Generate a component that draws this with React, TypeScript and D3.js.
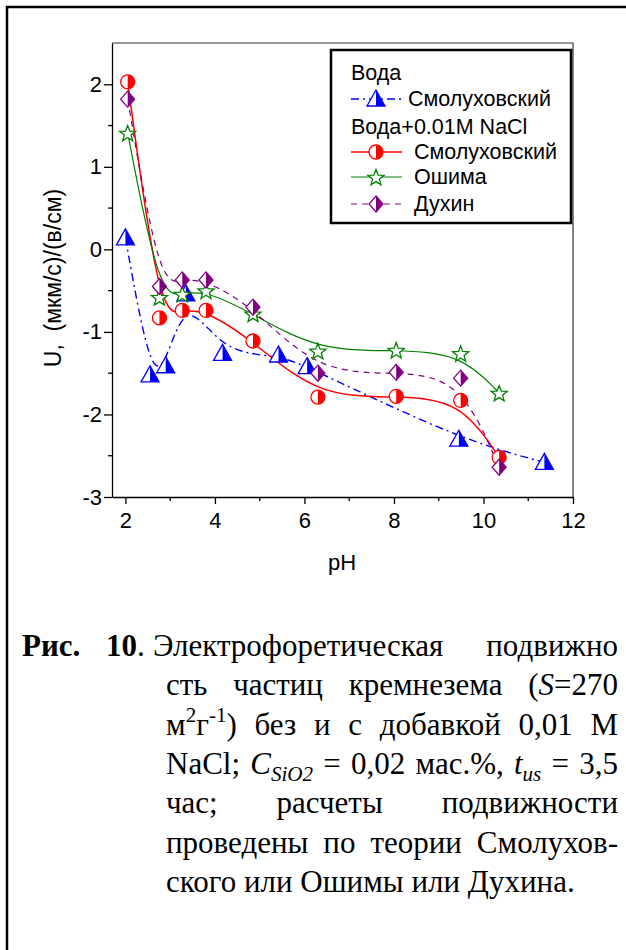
import React, { useEffect, useRef } from 'react';
import * as d3 from 'd3';

// Вода, Смолуховский
const phWater = [2.0, 2.55, 2.9, 3.35, 4.17, 5.42, 6.06, 9.45, 11.36];
const uWaterSmol = [0.14, -1.52, -1.41, -0.54, -1.26, -1.28, -1.42, -2.3, -2.58];

// Вода + 0.01M NaCl
const phNaCl = [2.05, 2.76, 3.27, 3.8, 4.85, 6.3, 8.05, 9.49, 10.35];
const uNaClSmol = [2.03, -0.83, -0.74, -0.74, -1.11, -1.79, -1.78, -1.83, -2.52];
const uNaClOshima = [1.41, -0.58, -0.54, -0.5, -0.78, -1.23, -1.22, -1.26, -1.74];
const uNaClDukhin = [1.82, -0.45, -0.37, -0.37, -0.7, -1.5, -1.49, -1.56, -2.64];

const xTicks = [2, 4, 6, 8, 10, 12];
const xMinor = [3, 5, 7, 9, 11];
const yTicks = [-3, -2, -1, 0, 1, 2];
const yMinor = [-2.5, -1.5, -0.5, 0.5, 1.5];

const legendItems = ['Вода', 'Смолуховский', 'Вода+0.01M NaCl', 'Смолуховский', 'Ошима', 'Духин'];

type Seg = { t: string; i?: boolean; b?: boolean; sub?: boolean; sup?: boolean };
const wd = (...s: (string | Seg)[]): Seg[] => s.map(x => (typeof x === 'string' ? { t: x } : x));

// caption lines 2..7 (line 1 is laid out by hand)
const captionLines: Seg[][][] = [
	[wd('сть'), wd('частиц'), wd('кремнезема'), wd('(', { t: 'S', i: true }, '=270')],
	[wd('м', { t: '2', sup: true }, 'г', { t: '-1', sup: true }, ')'), wd('без'), wd('и'), wd('с'), wd('добавкой'), wd('0,01'), wd('М')],
	[wd('NaCl;'), wd({ t: 'C', i: true }, { t: 'SiO2', i: true, sub: true }), wd('='), wd('0,02'), wd('мас.%,'), wd({ t: 't', i: true }, { t: 'us', i: true, sub: true }), wd('='), wd('3,5')],
	[wd('час;'), wd('расчеты'), wd('подвижности')],
	[wd('проведены'), wd('по'), wd('теории'), wd('Смолухов-')],
	[wd('ского'), wd('или'), wd('Ошимы'), wd('или'), wd('Духина.')]
];

const SANS = '"Liberation Sans", Arial, sans-serif';
const SERIF = '"Liberation Serif", "Times New Roman", serif';

const BLUE = '#0000ff';
const RED = '#ff0000';
const GREEN = '#008000';
const PURPLE = '#800080';

export default function App() {
	const ref = useRef<SVGSVGElement>(null);

	useEffect(() => {
		const svg = d3.select(ref.current);
		svg.selectAll('*').remove();

		// outer frame (runs off the right and bottom edges)
		svg.append('rect')
			.attr('x', 7).attr('y', 7).attr('width', 700).attr('height', 1000)
			.attr('fill', 'none').attr('stroke', '#000').attr('stroke-width', 2.5);

		const x = d3.scaleLinear().domain([1.7, 12]).range([112, 573]);
		const y = d3.scaleLinear().domain([-3, 2.5]).range([497, 43]);

		// box
		svg.append('path')
			.attr('d', `M${x(1.7)},${y(2.5)}H${x(12)}V${y(-3)}`)
			.attr('fill', 'none').attr('stroke', '#333').attr('stroke-width', 1.2);

		const xAxis = svg.append('g').attr('transform', `translate(0,${y(-3)})`)
			.call(d3.axisBottom(x).tickValues(xTicks).tickSize(7).tickSizeOuter(0).tickPadding(8).tickFormat(d => String(d)));
		xAxis.append('g').selectAll('line').data(xMinor).join('line')
			.attr('x1', d => x(d)).attr('x2', d => x(d)).attr('y1', 0).attr('y2', 4).attr('stroke', '#000');

		const yAxis = svg.append('g').attr('transform', `translate(${x(1.7)},0)`)
			.call(d3.axisLeft(y).tickValues(yTicks).tickSize(8).tickSizeOuter(0).tickPadding(2).tickFormat(d => String(d)));
		yAxis.append('g').selectAll('line').data(yMinor).join('line')
			.attr('y1', d => y(d)).attr('y2', d => y(d)).attr('x1', 0).attr('x2', -4).attr('stroke', '#000');

		[xAxis, yAxis].forEach(a => {
			a.selectAll('text').attr('font-family', SANS).attr('font-size', 22).attr('fill', '#000');
			a.selectAll('path, line').attr('stroke', '#000').attr('stroke-width', 1.3);
		});

		svg.append('text')
			.attr('transform', 'translate(53,278) rotate(-90)')
			.attr('text-anchor', 'middle').attr('dominant-baseline', 'central')
			.attr('font-family', SANS).attr('font-size', 23).style('white-space', 'pre')
			.text('U,  (мкм/с)/(в/см)');

		svg.append('text')
			.attr('x', 342).attr('y', 570).attr('text-anchor', 'middle')
			.attr('font-family', SANS).attr('font-size', 22).text('pH');

		// markers
		const tri = (g: any, cx: number, cy: number) => {
			g.append('path').attr('d', `M${cx},${cy - 9}L${cx + 9},${cy + 7}L${cx - 9},${cy + 7}Z`)
				.attr('fill', '#fff').attr('stroke', BLUE).attr('stroke-width', 1.3);
			g.append('path').attr('d', `M${cx},${cy - 9}L${cx + 9},${cy + 7}L${cx},${cy + 7}Z`).attr('fill', BLUE);
		};
		const circ = (g: any, cx: number, cy: number) => {
			g.append('circle').attr('cx', cx).attr('cy', cy).attr('r', 7)
				.attr('fill', '#fff').attr('stroke', RED).attr('stroke-width', 1.3);
			g.append('path').attr('d', `M${cx},${cy - 7}A7,7 0 0 1 ${cx},${cy + 7}Z`).attr('fill', RED);
		};
		const star = (g: any, cx: number, cy: number) => {
			const pts = d3.range(10).map(k => {
				const r = k % 2 ? 3.6 : 8.5;
				const a = (k * Math.PI) / 5 - Math.PI / 2;
				return [cx + r * Math.cos(a), cy + 1 + r * Math.sin(a)];
			});
			g.append('path').attr('d', 'M' + pts.join('L') + 'Z')
				.attr('fill', '#fff').attr('stroke', GREEN).attr('stroke-width', 1.3);
		};
		const diam = (g: any, cx: number, cy: number) => {
			g.append('path').attr('d', `M${cx},${cy - 8}L${cx + 7},${cy}L${cx},${cy + 8}L${cx - 7},${cy}Z`)
				.attr('fill', '#fff').attr('stroke', PURPLE).attr('stroke-width', 1.3);
			g.append('path').attr('d', `M${cx},${cy - 8}L${cx + 7},${cy}L${cx},${cy + 8}Z`).attr('fill', PURPLE);
		};

		const series = [
			{ xs: phWater, ys: uWaterSmol, color: BLUE, dash: '8,4,2,4', w: 1.4, mark: tri },
			{ xs: phNaCl, ys: uNaClSmol, color: RED, dash: null, w: 1.5, mark: circ },
			{ xs: phNaCl, ys: uNaClOshima, color: GREEN, dash: null, w: 1.2, mark: star },
			{ xs: phNaCl, ys: uNaClDukhin, color: PURPLE, dash: '6,5', w: 1.2, mark: diam }
		];

		const line = d3.line<[number, number]>().x(d => x(d[0])).y(d => y(d[1])).curve(d3.curveBasis);
		series.forEach(s => {
			svg.append('path')
				.datum(s.xs.map((v, i) => [v, s.ys[i]] as [number, number]))
				.attr('d', line).attr('fill', 'none')
				.attr('stroke', s.color).attr('stroke-width', s.w).attr('stroke-dasharray', s.dash);
		});
		series.forEach(s => {
			const g = svg.append('g');
			s.xs.forEach((v, i) => s.mark(g, x(v), y(s.ys[i])));
		});

		// legend
		const lg = svg.append('g');
		lg.append('rect').attr('x', 331).attr('y', 50).attr('width', 240).attr('height', 173)
			.attr('fill', '#fff').attr('stroke', '#000').attr('stroke-width', 2.5);
		const rows = [73, 99, 127, 152, 177, 204];
		const withMark = [null, series[0], null, series[1], series[2], series[3]];
		legendItems.forEach((t, i) => {
			const s = withMark[i];
			lg.append('text').attr('x', s ? (i === 1 ? 408 : 414) : 351).attr('y', rows[i])
				.attr('dominant-baseline', 'central')
				.attr('font-family', SANS).attr('font-size', 21.5).text(t);
			if (s) {
				lg.append('line').attr('x1', 351).attr('x2', 402).attr('y1', rows[i]).attr('y2', rows[i])
					.attr('stroke', s.color).attr('stroke-width', s.w).attr('stroke-dasharray', s.dash);
				s.mark(lg, 376, rows[i]);
			}
		});

		// caption
		const fs = 31;
		const cap = svg.append('g').attr('font-family', SERIF).attr('font-size', fs).attr('fill', '#000');
		const drawWord = (segs: Seg[], px: number, py: number) => {
			const t = cap.append('text').attr('x', px).attr('y', py);
			let shift = 0;
			segs.forEach(s => {
				const target = s.sup ? -0.42 * fs : s.sub ? 0.22 * fs : 0;
				t.append('tspan').attr('dy', target - shift)
					.attr('font-size', s.sup || s.sub ? fs * 0.68 : fs)
					.attr('font-style', s.i ? 'italic' : null)
					.attr('font-weight', s.b ? 'bold' : null)
					.text(s.t);
				shift = target;
			});
			return t;
		};

		const base0 = 656;
		const step = 39.3;
		drawWord(wd({ t: 'Рис.', b: true }), 22, base0);
		drawWord(wd({ t: '10', b: true }, '.'), 106, base0);
		drawWord(wd('Электрофоретическая'), 153, base0);
		drawWord(wd('подвижно'), 0, base0).attr('x', 618).attr('text-anchor', 'end');

		const left = 166;
		const right = 618;
		captionLines.forEach((words, li) => {
			const py = base0 + step * (li + 1);
			const nodes = words.map(w => drawWord(w, left, py));
			const widths = nodes.map(n => (n.node() as SVGTextElement).getComputedTextLength());
			const justify = li < captionLines.length - 1;
			const gap = justify
				? (right - left - d3.sum(widths)) / (words.length - 1)
				: fs * 0.25;
			let cx = left;
			nodes.forEach((n, k) => {
				n.attr('x', cx);
				cx += widths[k] + gap;
			});
		});
	}, []);

	return (
		<div style={{ position: 'absolute', left: 0, top: 0 }}>
			<svg ref={ref} width={626} height={950} style={{ display: 'block', background: '#fff' }} />
		</div>
	);
}
